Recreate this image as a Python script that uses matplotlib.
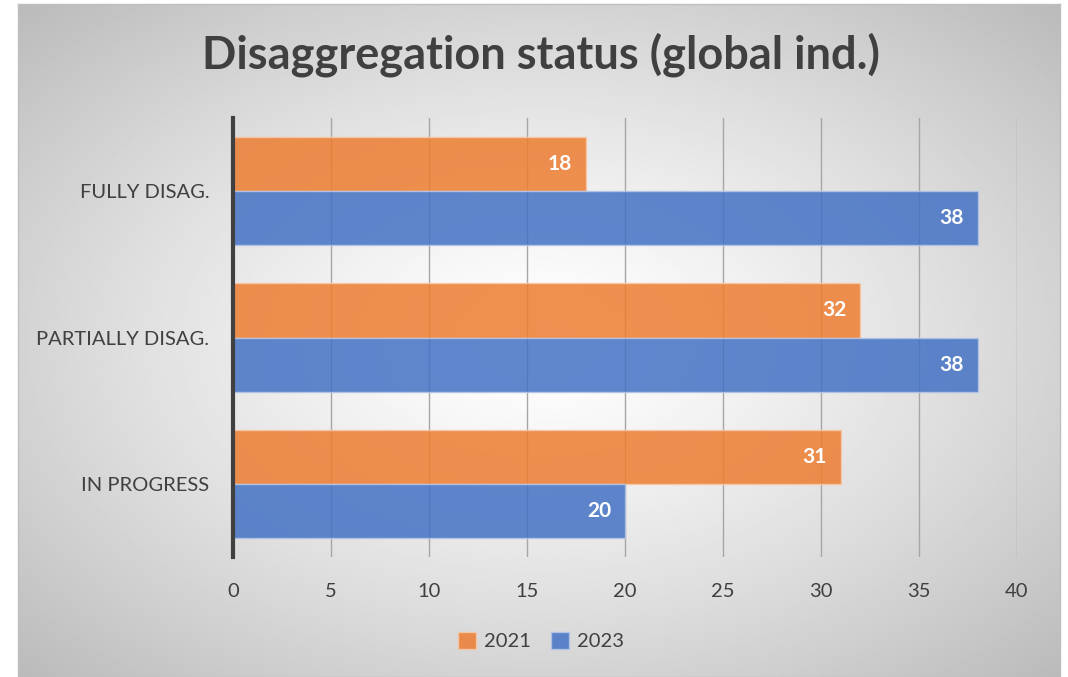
import matplotlib.pyplot as plt
import numpy as np

categories = ['FULLY DISAG.', 'PARTIALLY DISAG.', 'IN PROGRESS']
values_2021 = [18, 32, 31]
values_2023 = [38, 38, 20]
years = ['2021', '2023']

plt.rcParams['font.family'] = ['Lato', 'DejaVu Sans']

fig = plt.figure(figsize=(10.68, 6.77), dpi=100)

# radial gradient background of the chart area
bg = fig.add_axes([18 / 1068, 0, (1060 - 18) / 1068, 673 / 677])
yy, xx = np.mgrid[-1:1:400j, -1:1:600j]
r = np.sqrt(xx ** 2 + yy ** 2) / np.sqrt(2)
shade = 1.0 - 0.27 * np.clip(r, 0, 1) ** 1.3
bg.imshow(shade, cmap='gray', vmin=0, vmax=1, aspect='auto', extent=[0, 1, 0, 1])
bg.set_xticks([])
bg.set_yticks([])
for s in bg.spines.values():
    s.set_color('#bfbfbf')
    s.set_linewidth(1)

ax = fig.add_axes([233 / 1068, 120 / 677, (1017 - 233) / 1068, (557 - 118) / 677])
ax.patch.set_alpha(0)

y = np.arange(len(categories))
h = 0.37
b1 = ax.barh(y - h / 2, values_2021, height=h, color='#ED7D31', alpha=0.85,
             edgecolor='#f6c9a8', linewidth=1, label=years[0], zorder=3)
b2 = ax.barh(y + h / 2, values_2023, height=h, color='#4472C4', alpha=0.85,
             edgecolor='#b4c6e7', linewidth=1, label=years[1], zorder=3)

for bars, vals in [(b1, values_2021), (b2, values_2023)]:
    for bar, v in zip(bars, vals):
        ax.text(v - 0.7, bar.get_y() + bar.get_height() / 2, str(v), ha='right', va='center',
                color='white', fontsize=15, fontweight='bold', zorder=4)

ax.set_xlim(0, 40)
ax.set_ylim(2.5, -0.5)
ax.set_xticks(np.arange(0, 41, 5))
ax.set_yticks(y)
ax.set_yticklabels(categories)
ax.tick_params(axis='both', length=0, labelsize=14.5, labelcolor='#404040')
ax.tick_params(axis='y', pad=17)
ax.tick_params(axis='x', pad=19)
ax.grid(axis='x', color='#a6a6a6', linewidth=1, zorder=1)
for s in ['top', 'right', 'bottom']:
    ax.spines[s].set_visible(False)
ax.spines['left'].set_color('#404040')
ax.spines['left'].set_linewidth(3)
ax.spines['left'].set_zorder(5)

fig.text(541 / 1068, 1 - 55 / 677, 'Disaggregation status (global ind.)', ha='center', va='center',
         fontsize=32.5, fontweight='bold', color='#404040')

fig.legend(handles=[b1, b2], labels=years, loc='center', bbox_to_anchor=(541 / 1068, 1 - 641 / 677),
           ncol=2, frameon=False, fontsize=14.5, handlelength=0.9, handleheight=0.9,
           handletextpad=0.4, columnspacing=1.0, labelcolor='#404040')

fig.savefig('out.png', dpi=100)
